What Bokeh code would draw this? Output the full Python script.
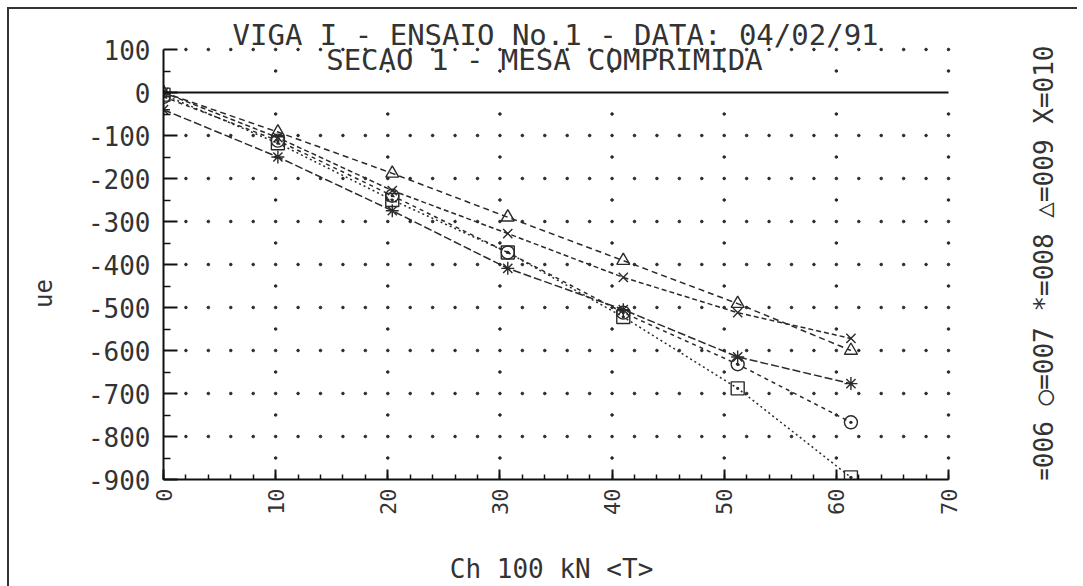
import math
import numpy as np
from bokeh.plotting import figure
from bokeh.models import Range1d, FixedTicker, Label
from bokeh.embed import file_html
from bokeh.resources import INLINE

# ---- data ----
load = [0, 10.2, 20.4, 30.7, 41.0, 51.2, 61.3]
s006 = [-5, -118, -250, -372, -522, -688, -895]
s007 = [-10, -112, -240, -372, -512, -632, -767]
s008 = [-40, -150, -275, -409, -505, -615, -677]
s009 = [0, -92, -188, -290, -391, -491, -600]
s010 = [0, -105, -228, -328, -430, -512, -572]

x_ticks = [0, 10, 20, 30, 40, 50, 60, 70]
x_tick_labels = ["0", "10", "20", "30", "40", "50", "60", "70"]
y_ticks = [100, 0, -100, -200, -300, -400, -500, -600, -700, -800, -900]
y_tick_labels = ["100", "0", "-100", "-200", "-300", "-400", "-500",
                 "-600", "-700", "-800", "-900"]

title_1 = "VIGA I - ENSAIO No.1 - DATA: 04/02/91"
title_2 = "SECAO 1 - MESA COMPRIMIDA"
x_title = "Ch 100 kN <T>"
y_title = "ue"
legend_text = "\u25a1=006 \u25cb=007 *=008 \u25b3=009 X=010"

FONT = "DejaVu Sans Mono"
INK = "#2a2a2a"
TXT = "#333333"
NBSP = "\u00a0"

# frame: left 163, right 1080, top 6, bottom 479 (page px)
# data area 0..70 x -900..100 occupies 163..948 x 49..479
X_END = (1080 - 163) / (785 / 70)
Y_TOP = 100 + (49 - 6) / 0.43

p = figure(width=1083, height=586,
           x_range=Range1d(0, X_END), y_range=Range1d(-900, Y_TOP),
           output_backend="svg", toolbar_location=None,
           min_border_left=163, min_border_right=3,
           min_border_top=6, min_border_bottom=107)
p.outline_line_color = None
p.xgrid.visible = False
p.ygrid.visible = False
p.background_fill_alpha = 0
p.border_fill_alpha = 0
# page border: top and left lines (drawn by CSS behind the transparent canvas)
p.styles = {
    "background-image": "linear-gradient(#333,#333), linear-gradient(#333,#333)",
    "background-size": "1070px 2px, 2px 586px",
    "background-position": "7px 7px, 7px 7px",
    "background-repeat": "no-repeat",
}

# dotted plotter grid
dense_x = np.arange(2, 71, 2)
dense_y = np.arange(-800, 101, 100)
dense_y = dense_y[dense_y != 0]
sparse_x = np.arange(10, 71, 10)
sparse_y = np.arange(-850, 51, 100)
gx, gy = np.meshgrid(dense_x, dense_y)
sx, sy = np.meshgrid(sparse_x, sparse_y)
p.scatter(gx.ravel(), gy.ravel(), size=2.6, color=INK)
p.scatter(sx.ravel(), sy.ravel(), size=2.6, color=INK)

# zero reference line across the data area
p.segment(x0=[x_ticks[0]], y0=[0], x1=[x_ticks[-1]], y1=[0],
          line_color="#111111", line_width=2)

# axes
for ax in (p.xaxis, p.yaxis):
    ax.axis_line_color = "#111111"
    ax.axis_line_width = 2
    ax.major_tick_line_color = "#111111"
    ax.major_tick_line_width = 2
    ax.minor_tick_line_color = "#111111"
    ax.minor_tick_line_width = 1.5
    ax.major_tick_out = 0
    ax.minor_tick_out = 0
    ax.major_label_text_font = FONT
    ax.major_label_text_color = TXT
    ax.axis_label_text_font = FONT
    ax.axis_label_text_color = TXT
    ax.axis_label_text_font_style = "normal"

p.yaxis.bounds = (y_ticks[-1], y_ticks[0])
p.yaxis.ticker = FixedTicker(ticks=y_ticks, minor_ticks=list(range(-850, 100, 100)))
p.yaxis.major_label_overrides = {t: l for t, l in zip(y_ticks, y_tick_labels)}
p.yaxis.major_tick_in = 14
p.yaxis.minor_tick_in = 7
p.yaxis.major_label_standoff = 13
p.yaxis.major_label_text_font_size = "26px"
# trailing no-break spaces move the centred label down to where the reference has it
p.yaxis.axis_label = y_title + NBSP * 7
p.yaxis.axis_label_text_font_size = "24px"
p.yaxis.axis_label_standoff = 27

p.xaxis.bounds = (x_ticks[0], x_ticks[-1])
p.xaxis.ticker = FixedTicker(ticks=x_ticks, minor_ticks=list(range(0, 71, 2)))
p.xaxis.major_label_overrides = {t: l for t, l in zip(x_ticks, x_tick_labels)}
p.xaxis.major_tick_in = 10
p.xaxis.minor_tick_in = 5
p.xaxis.major_label_orientation = math.pi / 2
p.xaxis.major_label_standoff = 9
p.xaxis.major_label_text_font_size = "22px"
# trailing no-break spaces move the centred label left, under the data area
p.xaxis.axis_label = x_title + NBSP * 9
p.xaxis.axis_label_text_font_size = "26px"
p.xaxis.axis_label_standoff = 36

# series
series = [
    (s006, "square_dot", "2 3"),
    (s007, "circle_dot", "4 4"),
    (s008, "asterisk", "8 3"),
    (s009, "triangle", "6 4"),
    (s010, "x", "5 3"),
]
for vals, mk, dash in series:
    p.line(load, vals, line_color=INK, line_width=1.5, line_dash=dash)
    p.scatter(load, vals, marker=mk, size=13, fill_color=None,
              line_color=INK, line_width=1.4)

# texts inside the (extended) frame, data units
def lab(text, x, y, size, angle=0.0, align="center"):
    p.add_layout(Label(x=x, y=y, text=text, angle=angle,
                       text_font=FONT, text_font_size=size, text_color=TXT,
                       text_align=align, text_baseline="middle"))

lab(title_1, 34.96, 132.6, "29px")
lab(title_2, 33.97, 76.7, "29px")
lab(legend_text, 78.56, 109.3, "26px", angle=math.pi / 2, align="right")

open("out.html", "w").write(file_html(p, INLINE))
